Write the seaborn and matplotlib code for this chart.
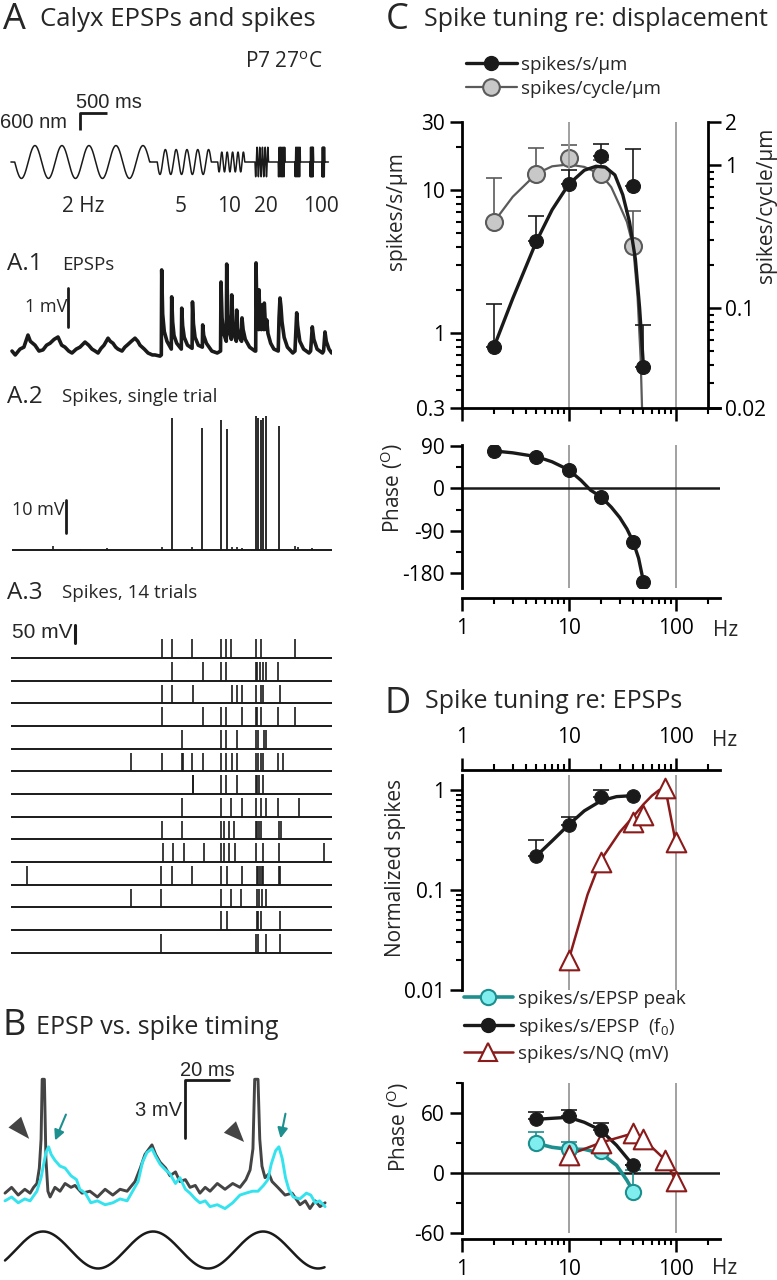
import numpy as np
import matplotlib
matplotlib.use("Agg")
import matplotlib.pyplot as plt
from matplotlib.lines import Line2D
from matplotlib.patches import FancyArrowPatch
from matplotlib.ticker import LogLocator, NullFormatter, MultipleLocator
import seaborn as sns

# ---------------- data ----------------
# A: displacement stimulus (sine bursts), time in s
stim_hz = [2, 5, 10, 20, 40, 50, 80, 100]
stim_start_s = [0.05, 2.69, 3.81, 4.50, 4.93, 5.24, 5.52, 5.74]
stim_amp_nm = [580, 440, 350, 520, 520, 520, 520, 520]
stim_cycles = 5

# A.1 EPSP trace (vertices, s / mV)
a1_t = [0.0, 0.06, 0.148, 0.22, 0.296, 0.34, 0.426, 0.5, 0.574, 0.64, 0.704, 0.78, 0.852, 0.92,
        0.981, 1.05, 1.111, 1.19, 1.259, 1.352, 1.42, 1.481, 1.54, 1.593, 1.65, 1.704, 1.778,
        1.82, 1.87, 1.92, 1.963, 2.037, 2.09, 2.148, 2.21, 2.278, 2.33, 2.37, 2.45, 2.519, 2.6,
        2.648, 2.741,
        2.765, 2.772, 2.79, 2.82, 2.87, 2.95,
        2.957, 2.975, 3.0, 3.05, 3.135,
        3.143, 3.16, 3.19, 3.25, 3.335,
        3.342, 3.36, 3.39, 3.45, 3.525,
        3.531, 3.55, 3.6, 3.7, 3.8, 3.862,
        3.870, 3.89, 3.92, 3.968,
        3.976, 3.995, 4.03, 4.062,
        4.069, 4.09, 4.12, 4.154,
        4.161, 4.18, 4.21, 4.252,
        4.259, 4.28, 4.32, 4.4, 4.5, 4.513,
        4.519, 4.535, 4.568,
        4.574, 4.59, 4.618,
        4.624, 4.64, 4.666,
        4.672, 4.69, 4.711,
        4.717, 4.74, 4.79, 4.85, 4.93,
        4.945, 4.963, 4.98, 5.0, 5.04, 5.1, 5.2, 5.24,
        5.26, 5.272, 5.29, 5.33, 5.4, 5.5, 5.53,
        5.561, 5.59, 5.65, 5.75, 5.77,
        5.796, 5.82, 5.87, 5.92]
a1_mv = [0.05, -0.05, 0.1, 0.15, 0.46, 0.3, 0.2, 0.05, 0.08, 0.2, 0.25, 0.35, 0.41, 0.2,
         0.15, 0.05, 0.0, 0.1, 0.15, 0.28, 0.2, 0.1, 0.05, 0.0, 0.12, 0.2, 0.38,
         0.3, 0.25, 0.15, 0.1, 0.05, 0.15, 0.22, 0.3, 0.38, 0.3, 0.2, 0.1, 0.0, -0.05,
         -0.05, -0.08,
         -0.05, 2.13, 1.0, 0.55, 0.3, 0.1,
         1.44, 0.8, 0.45, 0.25, 0.1,
         1.15, 0.7, 0.4, 0.2, 0.12,
         1.31, 0.75, 0.4, 0.2, 0.15,
         0.72, 0.45, 0.25, 0.05, 0.0, 0.05,
         1.82, 0.9, 0.5, 0.3,
         2.28, 1.0, 0.5, 0.35,
         1.49, 0.8, 0.45, 0.3,
         1.10, 0.65, 0.4, 0.3,
         0.90, 0.6, 0.35, 0.15, 0.05, 0.05,
         2.31, 1.0, 0.6,
         1.62, 0.9, 0.6,
         1.23, 0.8, 0.6,
         1.28, 0.8, 0.6,
         0.85, 0.5, 0.25, 0.1, 0.05,
         0.9, 1.41, 1.2, 0.8, 0.4, 0.15, 0.0, 0.05,
         0.7, 1.03, 0.7, 0.3, 0.1, 0.0, 0.05,
         0.67, 0.35, 0.1, 0.0, 0.05,
         0.54, 0.3, 0.1, 0.0]

# A.2 single trial: spikes and small EPSP bumps (s / mV)
a2_spike_t = [2.957, 3.524, 3.865, 3.976, 4.513, 4.561, 4.611, 4.654, 4.698, 4.939]
a2_spike_mv = [40.0, 37.0, 39.4, 36.7, 40.6, 40.0, 39.4, 40.0, 40.6, 37.6]
a2_bump_t = [0.76, 1.26, 1.75, 2.77, 3.33, 4.07, 4.17, 4.26, 5.24, 5.30, 5.55]
a2_bump_mv = [1.3, 0.4, 0.5, 1.0, 1.0, 0.8, 0.8, 0.7, 1.2, 1.0, 0.6]

# A.3 spike times of 14 trials (s)
a3_trials = [
    [2.772, 2.957, 3.333, 3.865, 3.963, 4.061, 4.513, 4.617, 5.246],
    [2.957, 3.531, 3.865, 3.963, 4.513, 4.543, 4.593, 4.643, 4.698, 4.931],
    [2.772, 2.957, 3.346, 4.069, 4.161, 4.259, 4.513, 4.617, 4.654, 4.963],
    [2.772, 3.531, 3.865, 3.963, 4.259, 4.513, 4.543, 4.617, 4.931, 5.246],
    [3.143, 3.865, 3.963, 4.161, 4.513, 4.561, 4.667, 4.704],
    [2.198, 2.772, 3.143, 3.167, 3.333, 3.531, 3.865, 3.963, 4.069, 4.161, 4.513, 4.561,
     4.617, 4.654, 4.931, 5.013],
    [3.346, 3.357, 3.865, 3.963, 4.161, 4.513, 4.543, 4.580, 4.643],
    [3.154, 3.865, 4.061, 4.259, 4.513, 4.617, 4.698, 4.931, 5.309],
    [2.772, 3.154, 3.865, 3.926, 4.013, 4.111, 4.513, 4.543, 4.580, 4.617, 4.944, 4.981],
    [2.802, 2.987, 3.185, 3.556, 3.876, 3.926, 4.013, 4.124, 4.513, 4.654, 4.939, 5.778],
    [0.283, 2.765, 2.963, 3.333, 3.876, 3.976, 4.259, 4.531, 4.561, 4.587, 4.624, 4.654,
     4.950, 4.963],
    [2.204, 2.765, 3.876, 4.061, 4.246, 4.531, 4.580, 4.630, 4.698],
    [3.876, 3.976, 4.531, 4.561, 4.617, 4.963],
    [2.765, 4.519, 4.561, 4.704, 4.963],
]

# B: spike trace (dark) and EPSP trace (cyan), ms / mV
b_dark_t = [0, 3, 6, 9, 11.4, 13, 14.5, 15.6, 16.4, 16.9, 17.9, 18.6, 19.5, 20.5, 22.7, 25,
            27.3, 30, 31.8, 35, 38.6, 42, 45.5, 49, 52.3, 55.5, 59.1, 61.5, 63.6, 65.5, 66.8,
            68.5, 70.5, 73, 75, 77.5, 79.5, 82, 84.1, 86.5, 88.6, 91, 93.2, 96.5, 100, 103.5,
            106.8, 109.5, 111.4, 112.7, 113.5, 115.0, 115.8, 116.8, 118.2, 120, 121.4, 124,
            127.3, 130.5, 134.1, 136.5, 138.6, 141, 143.2, 145.5]
b_dark_mv = [0.2, 0.5, 0.1, 0.4, 0.2, 0.5, 0.7, 1.5, 3.0, 6.1, 6.1, 2.0, 0.3, 0.0, 0.5, 0.3,
             0.7, 0.5, 0.6, 0.2, 0.3, 0.0, 0.4, 0.1, 0.4, 0.3, 0.8, 1.5, 2.2, 2.5, 2.7,
             2.2, 1.8, 1.5, 1.1, 1.3, 0.8, 0.9, 0.5, 0.6, 0.2, 0.5, 0.3, 0.7, 0.4, 0.7,
             0.5, 0.9, 1.4, 2.5, 6.1, 6.1, 3.0, 1.6, 1.0, 1.2, 0.8, 0.5,
             0.1, 0.2, -0.4, -0.2, -0.6, -0.2, -0.5, -0.3]
b_cyan_t = [0, 3, 6, 9, 11.4, 14.5, 16.4, 18.6, 19.8, 21, 22.7, 25, 27.3, 30, 32.5, 34, 36.5,
            39, 42, 45.5, 49, 52.3, 55.5, 58, 60.5, 62.5, 64.5, 66.8, 68.5, 70.5, 73, 75, 77.5,
            79.5, 82, 84.1, 86.5, 88.6, 91, 93.2, 96.5, 100, 103.5, 106.8, 109.5, 112.5, 115,
            117.5, 119.5, 121, 123, 124.5, 126, 127.5, 129, 131, 134, 137, 139, 141, 143, 145.5]
b_cyan_mv = [-0.2, 0.0, -0.3, -0.1, -0.2, 0.3, 1.0, 2.3, 2.6, 2.2, 1.9, 1.6, 1.5, 1.1, 0.9,
             0.4, 0.2, -0.3, -0.2, -0.4, -0.3, -0.1, -0.2, 0.3, 0.8, 1.8, 2.3, 2.5, 2.1, 1.7,
             1.4, 1.2, 0.7, 1.0, 0.4, 0.2, -0.1, -0.3, -0.2, -0.5, -0.4, -0.6, -0.3, 0.1, 0.2,
             0.3, 0.3, 0.6, 0.9, 1.7, 2.4, 2.6, 2.0, 1.0, 0.4, 0.0, -0.1, 0.2, 0.1, -0.3, -0.2,
             -0.5]
b_stim_hz = 20
b_stim_peak_ms = 17.3

# C: spike tuning re: displacement
c_hz = [2, 5, 10, 20, 40, 50]
c_rate = [0.80, 4.4, 11.0, 17.3, 10.7, 0.58]
c_rate_top = [1.59, 6.6, 13.8, 21.2, 19.5, 1.14]
c_rate_fit_hz = [2, 3, 5, 7, 10, 14, 18, 22, 27, 32, 37, 42, 46, 50]
c_rate_fit = [0.80, 1.75, 4.4, 7.3, 11.0, 13.8, 14.7, 14.5, 12.8, 9.3, 6.0, 3.3, 1.5, 0.58]
c_cyc_hz = [2, 5, 10, 20, 40]
c_cyc = [0.40, 0.87, 1.12, 0.86, 0.27]
c_cyc_top = [0.81, 1.31, 1.38, 1.08, 0.48]
c_cyc_fit_hz = [2, 3, 5, 7, 10, 14, 20, 25, 30, 35, 40, 44, 47, 49]
c_cyc_fit = [0.40, 0.60, 0.87, 0.98, 1.01, 0.97, 0.86, 0.70, 0.52, 0.40, 0.27, 0.12, 0.045, 0.015]
c_phase = [79, 67, 39, -18, -113, -198]
c_phase_fit_hz = [2, 3, 5, 7, 10, 13, 16, 20, 25, 30, 35, 40, 45, 50]
c_phase_fit = [79, 75, 67, 56, 39, 17, -4, -18, -40, -62, -86, -113, -148, -198]

# D: spike tuning re: EPSPs
d_hz = [5, 10, 20, 40]
d_norm = [0.217, 0.452, 0.845, 0.87]
d_norm_top = [0.314, 0.54, 1.0, 0.87]
d_norm_fit_hz = [5, 7, 10, 14, 20, 28, 40]
d_norm_fit = [0.22, 0.31, 0.45, 0.62, 0.78, 0.86, 0.88]
d_nq_hz = [10, 20, 40, 50, 80, 100]
d_nq_norm = [0.02, 0.19, 0.48, 0.56, 1.04, 0.30]
d_nq_fit_hz = [10, 15, 20, 30, 40, 50, 60, 70, 80, 100]
d_nq_fit = [0.02, 0.09, 0.2, 0.38, 0.54, 0.72, 0.88, 1.0, 1.04, 0.30]
d_ph_f0 = [54, 57.3, 43.3, 8]
d_ph_f0_top = [61.7, 63, 50, 8]
d_ph_f0_fit_hz = [5, 7, 10, 14, 20, 28, 40]
d_ph_f0_fit = [54, 55, 56, 51, 43, 28, 8]
d_ph_peak = [30, 24, 22.7, -18.3]
d_ph_peak_top = [41.7, 31, 22.7, 3.3]
d_ph_peak_fit_hz = [5, 7, 10, 14, 20, 28, 35, 40]
d_ph_peak_fit = [30, 26, 24, 24, 20, 8, -7, -18]
d_ph_nq = [18.3, 30.7, 40, 34, 13.3, -7.7]

# ---------------- style ----------------
sns.set_theme(style="ticks")
plt.rcParams["font.family"] = ["Open Sans", "DejaVu Sans"]
plt.rcParams.update({
    "axes.linewidth": 2.0,
    "xtick.major.size": 9, "ytick.major.size": 9,
    "xtick.minor.size": 4.5, "ytick.minor.size": 4.5,
    "xtick.major.width": 1.8, "ytick.major.width": 1.8,
    "xtick.minor.width": 1.5, "ytick.minor.width": 1.5,
    "xtick.labelsize": 15, "ytick.labelsize": 15,
    "xtick.color": "black", "ytick.color": "black",
    "axes.edgecolor": "black",
})
ARIAL = ["Liberation Sans", "DejaVu Sans"]
TEAL = "#1d8f8f"
CYAN_FILL = "#80eeee"
RED = "#8b1a1a"
GRAYC = "#5a5a5a"

W, H = 777, 1280
fig = plt.figure(figsize=(W / 100, H / 100), dpi=100)


def box(x0, y0, x1, y1):
    return fig.add_axes([x0 / W, 1 - y1 / H, (x1 - x0) / W, (y1 - y0) / H])


def ftext(x, y, s, size, ha="left", va="center", **kw):
    fig.text(x / W, 1 - y / H, s, fontsize=size, ha=ha, va=va, **kw)


def trace_ax(y0, y1, zero_px, px_per_unit, x0=10, x1=332, t0_px=12, px_per_t=54.0):
    ax = box(x0, y0, x1, y1)
    ax.set_xlim((x0 - t0_px) / px_per_t, (x1 - t0_px) / px_per_t)
    ax.set_ylim((zero_px - y1) / px_per_unit, (zero_px - y0) / px_per_unit)
    ax.axis("off")
    return ax


# ---------------- A: stimulus ----------------
ax = trace_ax(90, 235, 162, 17 / 600)
t = np.arange(-0.02, 5.86, 0.0004)
disp = np.zeros_like(t)
for f, s0, amp in zip(stim_hz, stim_start_s, stim_amp_nm):
    m = (t >= s0) & (t < s0 + stim_cycles / f)
    disp[m] = -amp * np.sin(2 * np.pi * f * (t[m] - s0))
sns.lineplot(x=t, y=disp, ax=ax, color="k", lw=1.1, sort=False, estimator=None)
ax.plot([1.26, 1.26, 1.76], [1129, 1729, 1729], color="k", lw=2, solid_capstyle="butt")

# A.1 EPSPs
ax = trace_ax(255, 375, 353, 39)
sns.lineplot(x=a1_t, y=a1_mv, ax=ax, color="k", lw=2.6, sort=False, estimator=None)
ax.plot([1.037, 1.037], [0.67, 1.67], color="k", lw=2)

# A.2 single trial
ax = trace_ax(405, 565, 550, 3.3)
ax.hlines(0, 0, 5.92, color="k", lw=1.4)
ax.vlines(a2_spike_t, 0, a2_spike_mv, color="k", lw=1.3)
ax.vlines(a2_bump_t, 0, a2_bump_mv, color="k", lw=1.2)
ax.plot([1.0, 1.0], [5.2, 15.2], color="k", lw=2)

# A.3 raster
ax = trace_ax(600, 970, 658, 0.36)
row_step, spike_h = 63, 52
for i, spikes in enumerate(a3_trials):
    base = -i * row_step
    ax.hlines(base, -0.02, 5.93, color="k", lw=1.4)
    ax.vlines(spikes, base, base + spike_h, color="k", lw=1.2)
ax.plot([1.167, 1.167], [41.7, 91.7], color="k", lw=2.2)

# ---------------- B ----------------
ax = trace_ax(1040, 1215, 1197, 19.3, x0=0, x1=335, t0_px=5, px_per_t=2.2)
sns.lineplot(x=b_dark_t, y=b_dark_mv, ax=ax, color="#444444", lw=2.1, sort=False, estimator=None)
sns.lineplot(x=b_cyan_t, y=b_cyan_mv, ax=ax, color="#35e3ee", lw=2.1, sort=False, estimator=None)
ax.plot([101.8, 81.8, 81.8], [6.06, 6.06, 3.06], color="k", lw=2)
ax = trace_ax(1225, 1275, 1250, 18.5, x0=0, x1=335, t0_px=5, px_per_t=2.2)
tb = np.arange(0, 145.5, 0.25)
sns.lineplot(x=tb, y=np.cos(2 * np.pi * b_stim_hz / 1000 * (tb - b_stim_peak_ms)), ax=ax,
             color="k", lw=1.8, sort=False, estimator=None)


def P(x, y):
    return (x / W, 1 - y / H)


for tail, tip in [((13, 1120), (31, 1141)), ((228, 1125), (246, 1144))]:
    fig.patches.append(FancyArrowPatch(P(*tail), P(*tip), transform=fig.transFigure,
                                       arrowstyle="wedge,tail_width=12,shrink_factor=0.5",
                                       color="#444444", lw=0))
for tail, tip in [((67, 1112), (54, 1143)), ((286, 1111), (280, 1141))]:
    fig.patches.append(FancyArrowPatch(P(*tail), P(*tip), transform=fig.transFigure,
                                       arrowstyle="-|>,head_length=6,head_width=3",
                                       color=TEAL, lw=1.5))

# ---------------- frequency axes helpers ----------------


def freq_axis(ax, labels):
    ax.set_xscale("log")
    ax.set_xlim(1, 260)
    ax.set_xticks([1, 10, 100], ["1", "10", "100"] if labels else ["", "", ""])
    ax.xaxis.set_minor_locator(LogLocator(base=10, subs=range(2, 10), numticks=12))
    ax.xaxis.set_minor_formatter(NullFormatter())
    for f in [10, 100]:
        ax.axvline(f, color="#9a9a9a", lw=1.3, zorder=0)
    ax.set_facecolor("none")
    ax.tick_params(axis="x", which="both", direction="out", pad=5)
    ax.tick_params(axis="y", which="both", direction="out", pad=3)


def log_minor_y(ax):
    ax.yaxis.set_minor_locator(LogLocator(base=10, subs=range(2, 10), numticks=12))
    ax.yaxis.set_minor_formatter(NullFormatter())


def up_err(ax, x, y, top, color):
    y = np.array(y)
    ax.errorbar(x, y, yerr=[np.zeros_like(y), np.array(top) - y], fmt="none",
                ecolor=color, elinewidth=1.2, capsize=6, capthick=1.2, zorder=3)


# ---------------- C top ----------------
px_dec = 107.0
xc0, xc1 = 461.7, 461.7 + px_dec * np.log10(260)
axc = box(xc0, 122, xc1, 408)
freq_axis(axc, labels=False)
axc.set_yscale("log")
axc.set_ylim(0.3, 30)
axc.set_yticks([0.3, 1, 10, 30], ["0.3", "1", "10", "30"])
log_minor_y(axc)
axc.spines[["top", "right"]].set_visible(False)
axr = axc.twinx()
axr.set_yscale("log")
axr.set_ylim(0.02, 2)
axr.set_yticks([0.02, 0.1, 1, 2], ["0.02", "0.1", "1", "2"])
log_minor_y(axr)
axr.spines[["top", "left", "bottom"]].set_visible(False)
axr.spines["right"].set_position(("data", 200))
axr.tick_params(axis="y", which="both", direction="out", pad=3)

sns.lineplot(x=c_cyc_fit_hz, y=c_cyc_fit, ax=axr, color=GRAYC, lw=1.6, zorder=2)
up_err(axr, c_cyc_hz, c_cyc, c_cyc_top, GRAYC)
sns.scatterplot(x=c_cyc_hz, y=c_cyc, ax=axr, color="#c8c8c8", edgecolor=GRAYC,
                linewidth=1.5, s=150, zorder=4)
sns.lineplot(x=c_rate_fit_hz, y=c_rate_fit, ax=axc, color="k", lw=2.4, zorder=2)
up_err(axc, c_hz, c_rate, c_rate_top, "k")
sns.scatterplot(x=c_hz, y=c_rate, ax=axc, color="k", edgecolor="k", s=100, zorder=4)
axc.set_zorder(axr.get_zorder() + 1)
axc.patch.set_visible(False)
axr.set_ylim(0.02, 2)
axc.set_ylim(0.3, 30)
axc.set_xlim(1, 260)

# ---------------- C bottom (phase) ----------------
axp = box(xc0, 444.8, xc1, 588.4)
freq_axis(axp, labels=True)
axp.set_ylim(-212, 92)
axp.set_yticks([-180, -90, 0, 90], ["-180", "-90", "0", "90"])
axp.yaxis.set_minor_locator(MultipleLocator(45))
axp.spines[["top", "right"]].set_visible(False)
axp.spines["bottom"].set_position(("outward", 7))
axp.axhline(0, color="k", lw=1.8, zorder=1)
sns.lineplot(x=c_phase_fit_hz, y=c_phase_fit, ax=axp, color="k", lw=2.4, zorder=2)
sns.scatterplot(x=c_hz, y=c_phase, ax=axp, color="k", edgecolor="k", s=100, zorder=4)

# ---------------- D top ----------------
axd = box(xc0, 775, xc1, 990)
freq_axis(axd, labels=True)
axd.xaxis.tick_top()
axd.tick_params(axis="x", which="both", direction="out", pad=7)
axd.set_yscale("log")
axd.set_ylim(0.01, 1.415)
axd.set_yticks([0.01, 0.1, 1], ["0.01", "0.1", "1"])
log_minor_y(axd)
axd.spines[["bottom", "right"]].set_visible(False)
axd.spines["top"].set_position(("outward", 3.6))
sns.lineplot(x=d_nq_fit_hz, y=d_nq_fit, ax=axd, color=RED, lw=1.8, zorder=2)
sns.scatterplot(x=d_nq_hz, y=d_nq_norm, ax=axd, marker="^", color="white", edgecolor=RED,
                linewidth=1.5, s=200, zorder=4)
sns.lineplot(x=d_norm_fit_hz, y=d_norm_fit, ax=axd, color="k", lw=2.4, zorder=2)
up_err(axd, d_hz, d_norm, d_norm_top, "k")
sns.scatterplot(x=d_hz, y=d_norm, ax=axd, color="k", edgecolor="k", s=95, zorder=5)
axd.set_ylim(0.01, 1.415)

# ---------------- D bottom (phase) ----------------
axq = box(xc0, 1083, xc1, 1233.3)
freq_axis(axq, labels=True)
axq.set_ylim(-60, 90.3)
axq.set_yticks([-60, 0, 60], ["-60", "0", "60"])
axq.yaxis.set_minor_locator(MultipleLocator(30))
axq.spines[["top", "right"]].set_visible(False)
axq.spines["bottom"].set_position(("outward", 4.3))
axq.axhline(0, color="k", lw=1.8, zorder=1)
sns.lineplot(x=d_ph_f0_fit_hz, y=d_ph_f0_fit, ax=axq, color="k", lw=2.4, zorder=2)
up_err(axq, d_hz, d_ph_f0, d_ph_f0_top, "k")
sns.scatterplot(x=d_hz, y=d_ph_f0, ax=axq, color="k", edgecolor="k", s=95, zorder=5)
sns.lineplot(x=d_ph_peak_fit_hz, y=d_ph_peak_fit, ax=axq, color=TEAL, lw=2.6, zorder=2)
up_err(axq, d_hz, d_ph_peak, d_ph_peak_top, TEAL)
sns.scatterplot(x=d_hz, y=d_ph_peak, ax=axq, color=CYAN_FILL, edgecolor=TEAL, linewidth=1.5,
                s=120, zorder=4)
sns.lineplot(x=d_nq_hz, y=d_ph_nq, ax=axq, color=RED, lw=1.8, zorder=2)
sns.scatterplot(x=d_nq_hz, y=d_ph_nq, ax=axq, marker="^", color="white", edgecolor=RED,
                linewidth=1.5, s=200, zorder=4)

# ---------------- legends ----------------
h_c = [Line2D([], [], color="k", lw=2.4, marker="o", ms=10, mfc="k", mec="k"),
       Line2D([], [], color=GRAYC, lw=1.6, marker="o", ms=12, mfc="#c8c8c8", mec=GRAYC, mew=1.5)]
fig.legend(h_c, ["spikes/s/μm", "spikes/cycle/μm"], loc="upper left",
           bbox_to_anchor=P(466, 56), frameon=False, fontsize=13.5, handlelength=2.7,
           handletextpad=0.25, labelspacing=0.3, borderpad=0, borderaxespad=0)
h_d = [Line2D([], [], color=TEAL, lw=2.6, marker="o", ms=11, mfc=CYAN_FILL, mec=TEAL, mew=1.5),
       Line2D([], [], color="k", lw=2.4, marker="o", ms=10, mfc="k", mec="k"),
       Line2D([], [], color=RED, lw=1.8, marker="^", ms=13, mfc="white", mec=RED, mew=1.5)]
fig.legend(h_d, ["spikes/s/EPSP peak", "spikes/s/EPSP  (f$_{\\mathregular{0}}$)",
                 "spikes/s/NQ (mV)"], loc="upper left",
           bbox_to_anchor=P(464, 990), frameon=False, fontsize=13.5, handlelength=2.6,
           handletextpad=0.3, labelspacing=0.4, borderpad=0, borderaxespad=0)

# ---------------- text ----------------
ftext(3, 20, "A", 26)
ftext(40, 19, "Calyx EPSPs and spikes", 18.5)
ftext(245, 63, "P7 27$^{\\mathregular{o}}$C", 15)
ftext(109, 102, "500 ms", 14.5, ha="center", family=ARIAL)
ftext(0, 122, "600 nm", 14.5, family=ARIAL)
for x, s in [(83, "2 Hz"), (181, "5"), (229, "10"), (266, "20"), (321, "100")]:
    ftext(x, 206, s, 15, ha="center")
ftext(7, 264, "A.1", 17.5)
ftext(62, 265, "EPSPs", 13.5)
ftext(67, 307, "1 mV", 13, ha="right")
ftext(7, 397, "A.2", 17.5)
ftext(62, 397, "Spikes, single trial", 13.5)
ftext(65, 510, "10 mV", 13, ha="right")
ftext(7, 593, "A.3", 17.5)
ftext(62, 593, "Spikes, 14 trials", 13.5)
ftext(73, 632, "50 mV", 15, ha="right", family=ARIAL)
ftext(3, 1026, "B", 26)
ftext(36, 1028, "EPSP vs. spike timing", 18)
ftext(207, 1070, "20 ms", 14.5, ha="center", family=ARIAL)
ftext(182, 1110, "3 mV", 14.5, ha="right", family=ARIAL)
ftext(386, 20, "C", 26)
ftext(424, 19, "Spike tuning re: displacement", 18)
ftext(384, 704, "D", 26)
ftext(425, 702, "Spike tuning re: EPSPs", 18)
ftext(396, 211, "spikes/s/μm", 15, ha="center", rotation=90)
ftext(766, 205, "spikes/cycle/μm", 15, ha="center", rotation=90)
ftext(392, 488, "Phase ($^{\\mathregular{O}}$)", 15, ha="center", rotation=90)
ftext(396, 868, "Normalized spikes", 15, ha="center", rotation=90)
ftext(398, 1127, "Phase ($^{\\mathregular{O}}$)", 15, ha="center", rotation=90)
ftext(713, 630, "Hz", 15)
ftext(712, 741, "Hz", 15)
ftext(712, 1268, "Hz", 15)

fig.savefig("out.png", dpi=100)
